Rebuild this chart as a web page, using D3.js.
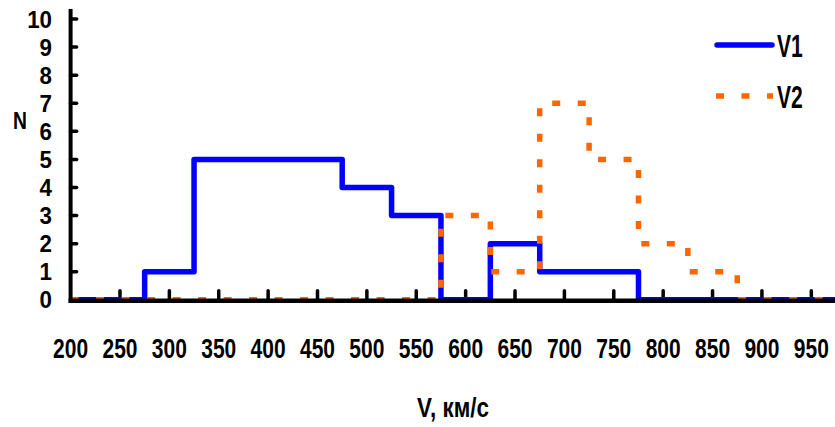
<!DOCTYPE html>
<html>
<head>
<meta charset="utf-8">
<script src="https://cdn.jsdelivr.net/npm/d3@7"></script>
<style>
  body { margin: 0; background: #fff; }
  text { font-family: "Liberation Sans", Arial, sans-serif; font-weight: bold; fill: #000; }
</style>
</head>
<body>
<div id="main"></div>
<script>
// bin centres (km/s), each bin is 50 wide
var binCenters = [200, 250, 300, 350, 400, 450, 500, 550, 600, 650, 700, 750, 800, 850, 900, 950];
var v1Counts = [0, 0, 1, 5, 5, 5, 4, 3, 0, 2, 1, 1, 0, 0, 0, 0];
var v2Counts = [0, 0, 0, 0, 0, 0, 0, 0, 3, 1, 7, 5, 2, 1, 0, 0];
var xTicks = [200, 250, 300, 350, 400, 450, 500, 550, 600, 650, 700, 750, 800, 850, 900, 950];
var yTicks = [0, 1, 2, 3, 4, 5, 6, 7, 8, 9, 10];
var seriesNames = ["V1", "V2"];

var width = 835, height = 427;

var x = d3.scaleLinear().domain([200, 975]).range([70.6, 836]);
var y = d3.scaleLinear().domain([0, 10]).range([299.8, 19]);

var svg = d3.select("#main").append("svg")
  .attr("width", width)
  .attr("height", height);

function label(txt, px, py, size, sx, anchor) {
  svg.append("text")
    .attr("transform", "translate(" + px + "," + py + ") scale(" + sx + ",1)")
    .attr("text-anchor", anchor)
    .style("font-size", size + "px")
    .text(txt);
}

// step path from bin counts
function stepPoints(counts) {
  var pts = [];
  counts.forEach(function(c, i) {
    pts.push([Math.max(200, binCenters[i] - 25), c]);
  });
  pts.push([975, counts[counts.length - 1]]);
  return pts;
}

var line = d3.line()
  .x(function(d) { return x(d[0]); })
  .y(function(d) { return y(d[1]); })
  .curve(d3.curveStepAfter);

// y axis ticks (point inward)
svg.selectAll(".ytick")
  .data(yTicks.filter(function(d) { return d > 0; }))
  .enter().append("line")
  .attr("x1", x(200)).attr("x2", x(200) + 6)
  .attr("y1", function(d) { return y(d); })
  .attr("y2", function(d) { return y(d); })
  .attr("stroke", "#000").attr("stroke-width", 3.5)
  .attr("stroke-linecap", "round");

// x axis ticks (point up)
svg.selectAll(".xtick")
  .data(xTicks.filter(function(d) { return d > 200; }))
  .enter().append("line")
  .attr("x1", function(d) { return x(d); })
  .attr("x2", function(d) { return x(d); })
  .attr("y1", y(0)).attr("y2", y(0) - 9)
  .attr("stroke", "#000").attr("stroke-width", 3.5)
  .attr("stroke-linecap", "round");

// V1
svg.append("path")
  .attr("d", line(stepPoints(v1Counts)))
  .attr("fill", "none")
  .attr("stroke", "#0000ff")
  .attr("stroke-width", 5.5)
  .attr("stroke-linejoin", "round");

// V2
svg.append("path")
  .attr("d", line(stepPoints(v2Counts)))
  .attr("fill", "none")
  .attr("stroke", "#ff6600")
  .attr("stroke-width", 5.5)
  .attr("stroke-dasharray", "8,17.5");

// axis lines (drawn over the zero level of the series)
svg.append("line")
  .attr("x1", x(200) - 2).attr("x2", width)
  .attr("y1", y(0) + 1).attr("y2", y(0) + 1)
  .attr("stroke", "#000").attr("stroke-width", 4.5);
svg.append("line")
  .attr("x1", x(200)).attr("x2", x(200))
  .attr("y1", 9).attr("y2", y(0) + 3)
  .attr("stroke", "#000").attr("stroke-width", 4);

// tick labels
yTicks.forEach(function(d) {
  label(d, 52, y(d) + 8.6, 24, 0.93, "end");
});
xTicks.forEach(function(d) {
  label(d, x(d), 358, 28, 0.75, "middle");
});

// axis titles
label("N", 20, 129, 23, 0.84, "middle");
label("V, км/с", 453, 416.5, 28, 0.8, "middle");

// legend
var legendY = [45, 96];
svg.append("line")
  .attr("x1", 717).attr("x2", 772)
  .attr("y1", legendY[0]).attr("y2", legendY[0])
  .attr("stroke", "#0000ff").attr("stroke-width", 5.5)
  .attr("stroke-linecap", "round");
svg.append("line")
  .attr("x1", 716).attr("x2", 773)
  .attr("y1", legendY[1]).attr("y2", legendY[1])
  .attr("stroke", "#ff6600").attr("stroke-width", 5.5)
  .attr("stroke-dasharray", "8,17.5");
seriesNames.forEach(function(n, i) {
  label(n, 777, legendY[i] + 11.5, 31, 0.68, "start");
});
</script>
</body>
</html>
